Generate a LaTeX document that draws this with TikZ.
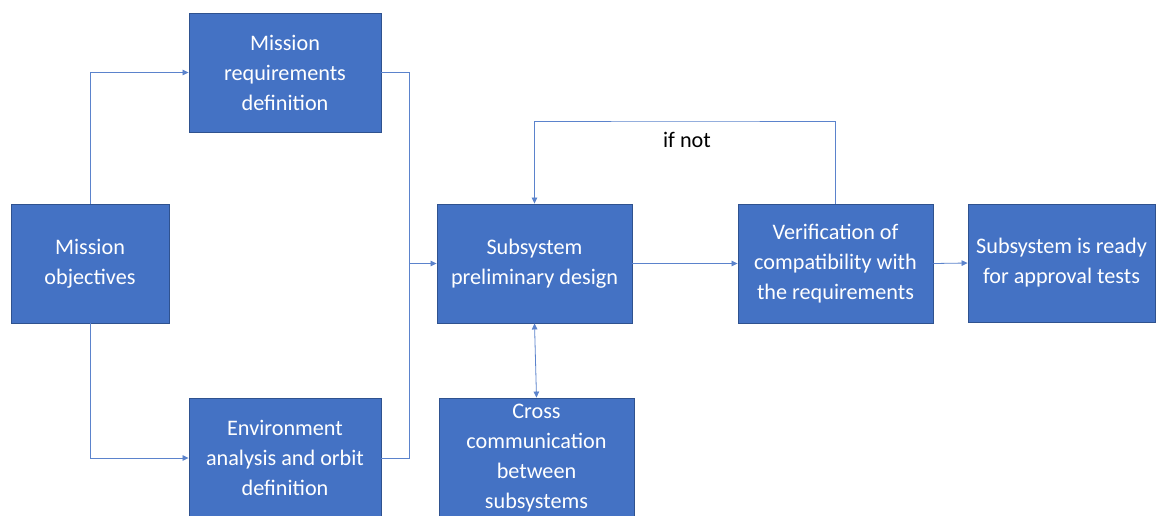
\documentclass[tikz,border=0pt]{standalone}
\usepackage{fontspec}
\setmainfont{Carlito}
\usetikzlibrary{arrows.meta}
\definecolor{boxfill}{HTML}{4472C4}
\definecolor{boxline}{HTML}{2F528F}
\definecolor{conn}{HTML}{5B83CC}
\tikzset{
  blk/.style={rectangle, fill=boxfill, draw=boxline, line width=0.9pt,
    text=white, align=center, inner sep=0pt,
    font=\fontsize{22.2}{30}\selectfont},
  con/.style={draw=conn, line width=0.8pt},
  arr/.style={con, -{Triangle[length=6pt,width=5.5pt]}},
  darr/.style={con, {Triangle[length=6pt,width=5.5pt]}-{Triangle[length=6pt,width=5.5pt]}}
}
\begin{document}
\begin{tikzpicture}[x=1pt,y=-1pt]
\clip (0,0) rectangle (1156,515);
\fill[white] (0,0) rectangle (1156,515);
\node[blk, minimum width=158pt, minimum height=119pt] (obj) at (90,263.5) {Mission\\objectives};
\node[blk, minimum width=192pt, minimum height=119pt] (req) at (285,72.5) {Mission\\requirements\\definition};
\node[blk, minimum width=192pt, minimum height=120pt] (env) at (285,458) {Environment\\analysis and orbit\\definition};
\node[blk, minimum width=195pt, minimum height=119pt] (des) at (534.5,263.5) {Subsystem\\preliminary design};
\node[blk, minimum width=195pt, minimum height=120pt] (cross) at (536.5,458) {Cross\\communication\\between\\subsystems};
\node[blk, minimum width=195pt, minimum height=119pt] (ver) at (835.5,263.5) {Verification of\\compatibility with\\the requirements};
\node[blk, minimum width=187pt, minimum height=118pt] (ready) at (1061.5,263) {Subsystem is ready\\for approval tests};
\coordinate (j) at (409,263.5);
\coordinate (top) at (686,121);
\draw[arr] (obj.north) |- (req.west);
\draw[arr] (obj.south) |- (env.west);
\draw[con] (req.east) -| (j);
\draw[con] (env.east) -| (j);
\draw[arr] (j) -- (des.west);
\draw[arr] (des.east) -- (ver.west);
\draw[arr] (ver.east) -- (ready.west);
\draw[arr] (ver.north) |- (top) -| (des.north);
\draw[darr] (des.south) -- (cross.north);
\node[font=\fontsize{22.2}{26}\selectfont, text=black] (ifnot) at (687,140) {if not};
\end{tikzpicture}
\end{document}
